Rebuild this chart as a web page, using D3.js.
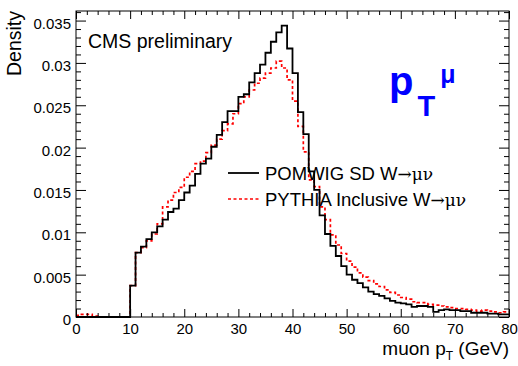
<!DOCTYPE html>
<html>
<head>
<meta charset="utf-8">
<script src="https://cdn.jsdelivr.net/npm/d3@7"></script>
<style>
  body { margin: 0; background: #fff; }
  text { font-family: "Liberation Sans", Arial, Helvetica, sans-serif; }
</style>
</head>
<body>
<div id="chart"></div>
<script>
// muon pT histograms, 1 GeV bins from 0 to 80
const binWidth = 1;

const pomwig = [
  0, 0, 0, 0, 0, 0, 0, 0, 0, 0,
  0.0037, 0.0076, 0.0083, 0.0092, 0.0100, 0.0107, 0.0115, 0.0124, 0.0128, 0.0138,
  0.0147, 0.0155, 0.0169, 0.0181, 0.0187, 0.0201, 0.0215, 0.0230, 0.0243, 0.0243,
  0.0260, 0.0263, 0.0277, 0.0288, 0.0298, 0.0312, 0.0325, 0.0336, 0.0344, 0.0317,
  0.0288, 0.0242, 0.0216, 0.0172, 0.0150, 0.0120, 0.0098, 0.0084, 0.0072, 0.0060,
  0.0050, 0.0044, 0.0040, 0.0035, 0.0030, 0.0027, 0.0025, 0.0022, 0.0019, 0.0017,
  0.0016, 0.0015, 0.0012, 0.0013, 0.0013, 0.0012, 0.0006, 0.0008, 0.0009, 0.0008,
  0.0008, 0.0007, 0.0007, 0.0005, 0.0005, 0.0005, 0.0004, 0.0004, 0.0003, 0.0003
];

const pythia = [
  0.0002, 0.0003, 0.0003, 0.0001, 0, 0, 0, 0, 0, 0,
  0.0037, 0.0076, 0.0082, 0.0090, 0.0098, 0.0110, 0.0130, 0.0138, 0.0147, 0.0153,
  0.0165, 0.0172, 0.0181, 0.0184, 0.0194, 0.0203, 0.0210, 0.0220, 0.0228, 0.0240,
  0.0252, 0.0260, 0.0268, 0.0276, 0.0282, 0.0288, 0.0294, 0.0302, 0.0294, 0.0280,
  0.0255, 0.0225, 0.0195, 0.0162, 0.0154, 0.0130, 0.0115, 0.0097, 0.0085, 0.0075,
  0.0066, 0.0059, 0.0052, 0.0047, 0.0043, 0.0039, 0.0036, 0.0032, 0.0029, 0.0026,
  0.0023, 0.0021, 0.0018, 0.0017, 0.0017, 0.0015, 0.0014, 0.0013, 0.0012, 0.0011,
  0.0010, 0.0010, 0.0009, 0.0008, 0.0007, 0.0008, 0.0007, 0.0006, 0.0005, 0.0006
];

const xTicks = [0, 10, 20, 30, 40, 50, 60, 70, 80];
const yTicks = [0, 0.005, 0.01, 0.015, 0.02, 0.025, 0.03, 0.035];
const legendLabels = ["POMWIG SD W", "PYTHIA Inclusive W"];

const width = 518;
const height = 366;
const margin = { top: 11, right: 9, bottom: 49, left: 76 };

const svg = d3.select("#chart")
  .append("svg")
  .attr("width", width)
  .attr("height", height);

const x = d3.scaleLinear()
  .domain([0, 80])
  .range([margin.left, width - margin.right]);

const y = d3.scaleLinear()
  .domain([0, 0.03613])
  .range([height - margin.bottom, margin.top]);

const xMinor = d3.range(0, 81, 2).filter(d => d % 10 !== 0);
const yMinor = d3.range(0, 37).map(d => d / 1000).filter(d => Math.round(d * 1000) % 5 !== 0);

// histograms as step outlines
function stepLine(vals) {
  const pts = vals.map((v, i) => [x(i * binWidth), y(v)]);
  pts.push([x(vals.length * binWidth), y(vals[vals.length - 1])]);
  return d3.line().curve(d3.curveStepAfter)(pts);
}

svg.append("path")
  .attr("d", stepLine(pythia))
  .attr("fill", "none")
  .attr("stroke", "#ff0000")
  .attr("stroke-width", 1.7)
  .attr("stroke-dasharray", "3,2.5");

svg.append("path")
  .attr("d", stepLine(pomwig))
  .attr("fill", "none")
  .attr("stroke", "#000")
  .attr("stroke-width", 1.8);

// axes, ROOT style ticks inside frame on all four sides
function styleAxis(g) {
  g.select(".domain").remove();
  g.selectAll(".tick line").attr("stroke", "#000");
}

svg.append("g")
  .attr("transform", `translate(0,${y(0)})`)
  .call(d3.axisBottom(x).tickValues(xTicks).tickSize(-8).tickPadding(6))
  .call(styleAxis)
  .call(g => g.selectAll(".tick text").attr("font-size", 15).attr("fill", "#000"));

svg.append("g")
  .attr("transform", `translate(0,${y(0)})`)
  .call(d3.axisBottom(x).tickValues(xMinor).tickSize(-4).tickFormat(""))
  .call(styleAxis);

svg.append("g")
  .attr("transform", `translate(0,${margin.top})`)
  .call(d3.axisTop(x).tickValues(xTicks).tickSize(-8).tickFormat(""))
  .call(styleAxis);

svg.append("g")
  .attr("transform", `translate(0,${margin.top})`)
  .call(d3.axisTop(x).tickValues(xMinor).tickSize(-4).tickFormat(""))
  .call(styleAxis);

svg.append("g")
  .attr("transform", `translate(${x(0)},0)`)
  .call(d3.axisLeft(y).tickValues(yTicks).tickSize(-10).tickPadding(5)
    .tickFormat(d => d === 0 ? "0" : d3.format(".3~f")(d)))
  .call(styleAxis)
  .call(g => g.selectAll(".tick text").attr("font-size", 15).attr("fill", "#000").attr("dy", "0.5em"));

svg.append("g")
  .attr("transform", `translate(${x(0)},0)`)
  .call(d3.axisLeft(y).tickValues(yMinor).tickSize(-5).tickFormat(""))
  .call(styleAxis);

svg.append("g")
  .attr("transform", `translate(${x(80)},0)`)
  .call(d3.axisRight(y).tickValues(yTicks).tickSize(-10).tickFormat(""))
  .call(styleAxis);

svg.append("g")
  .attr("transform", `translate(${x(80)},0)`)
  .call(d3.axisRight(y).tickValues(yMinor).tickSize(-5).tickFormat(""))
  .call(styleAxis);

// frame
svg.append("rect")
  .attr("x", x(0))
  .attr("y", margin.top)
  .attr("width", x(80) - x(0))
  .attr("height", y(0) - margin.top)
  .attr("fill", "none")
  .attr("stroke", "#000")
  .attr("stroke-width", 1);

// axis titles
const xt = svg.append("text")
  .attr("x", x(80))
  .attr("y", 355)
  .attr("text-anchor", "end")
  .attr("font-size", 19)
  .attr("fill", "#000");
xt.append("tspan").text("muon p");
xt.append("tspan").attr("font-size", 12).attr("dy", 5).text("T");
xt.append("tspan").attr("dy", -5).text(" (GeV)");

svg.append("text")
  .attr("transform", "translate(21,11) rotate(-90)")
  .attr("text-anchor", "end")
  .attr("font-size", 19.5)
  .attr("fill", "#000")
  .text("Density");

svg.append("text")
  .attr("x", 88)
  .attr("y", 48)
  .attr("font-size", 19.5)
  .attr("fill", "#000")
  .text("CMS preliminary");

// big blue label
const lab = svg.append("text")
  .attr("x", 389)
  .attr("y", 95)
  .attr("fill", "#0000ff")
  .attr("font-weight", "bold");
lab.append("tspan").attr("font-size", 40).text("p");
lab.append("tspan").attr("font-size", 29).attr("dy", 21).attr("dx", 4).text("T");
lab.append("tspan").attr("font-size", 25).attr("dy", -33).attr("dx", 5).text("μ");

// legend
const legend = [
  { label: legendLabels[0], color: "#000", dash: null, width: 1.8 },
  { label: legendLabels[1], color: "#ff0000", dash: "3,2.5", width: 1.7 }
];

legend.forEach((d, i) => {
  const ly = 173 + i * 26;
  svg.append("line")
    .attr("x1", 228).attr("x2", 259)
    .attr("y1", ly).attr("y2", ly)
    .attr("stroke", d.color)
    .attr("stroke-width", d.width)
    .attr("stroke-dasharray", d.dash);
  const t = svg.append("text")
    .attr("x", 265)
    .attr("y", ly + 7)
    .attr("font-size", 18.5)
    .attr("fill", "#000");
  t.append("tspan").text(d.label);
  t.append("tspan")
    .style("font-family", "'DejaVu Serif', 'Liberation Serif', serif")
    .attr("font-size", 17)
    .text("→μν");
});
</script>
</body>
</html>
